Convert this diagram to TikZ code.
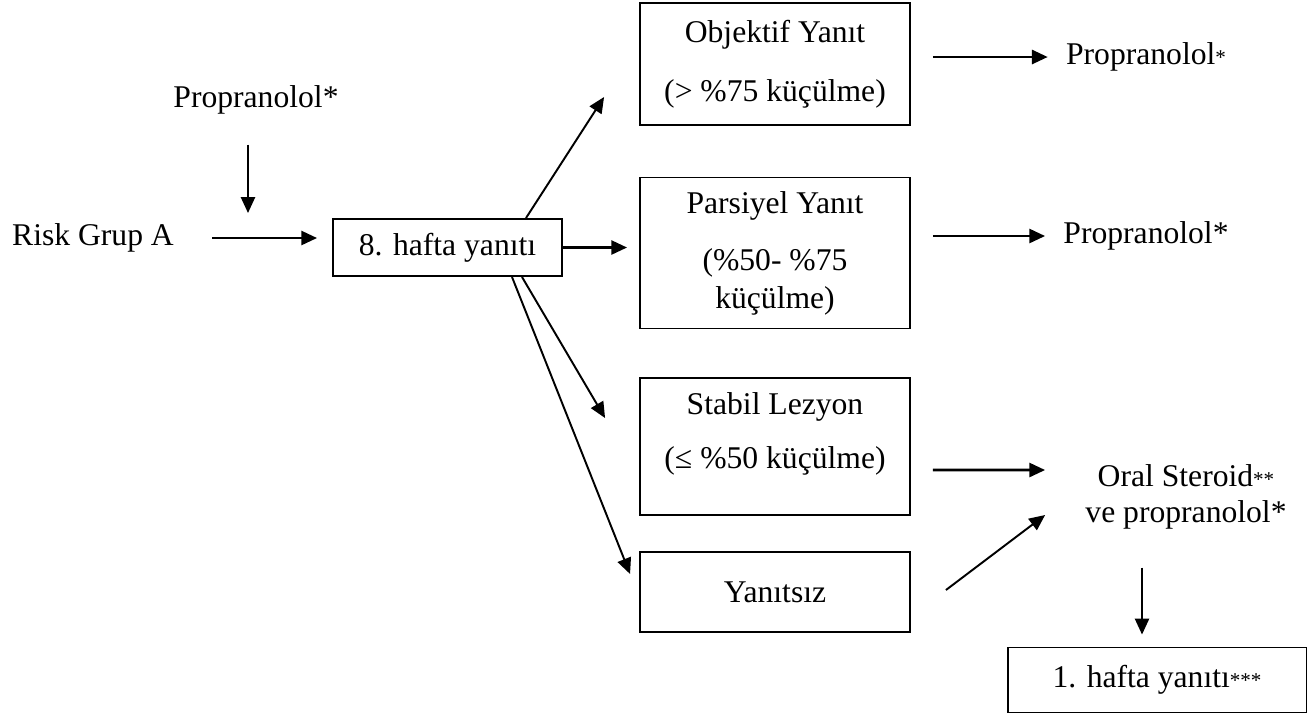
\documentclass[tikz,border=0pt]{standalone}
\usepackage{fontspec}
\setmainfont{Liberation Serif}
\usetikzlibrary{positioning, arrows.meta}

\newcommand{\smstar}[1]{{\fontsize{12}{12}\selectfont #1}}

\begin{document}
\begin{tikzpicture}[
  x=0.02cm, y=-0.02cm,
  font=\fontsize{18}{21.5}\selectfont,
  >={Triangle[length=9pt,width=8pt]},
  % --- node styles ---
  lbl/.style={inner sep=0pt, align=center},
  box/.style={
    draw, line width=1.1pt, align=center,
    inner sep=2pt, minimum width=5.4cm
  },
  arr/.style={->, line width=1.5pt},
  slim/.style={->, line width=1.1pt},
]
\useasboundingbox (0,0) rectangle (1314,718);

% ══════════════════════════════════════════════
% START
% ══════════════════════════════════════════════

\node[lbl] (prop0) at (256,100) {Propranolol*};
\node[lbl] (risk) at (93,238) {Risk Grup A};

\node[box, minimum width=4.58cm, minimum height=1.14cm] (h8) at (447.5,247.5)
  {8. hafta yanıtı};

\coordinate (inflow) at (248,213);

% ══════════════════════════════════════════════
% RESPONSE BOXES
% ══════════════════════════════════════════════

\node[box, minimum height=2.44cm] (obj) at (775,64)
  {Objektif Yanıt\\[12pt](> \%75 küçülme)};

\node[box, minimum height=3.02cm] (pars) at (775,253)
  {Parsiyel Yanıt\\[11pt](\%50- \%75\\küçülme)};

\node[box, minimum height=2.74cm] (stab) at (775,446.5)
  {Stabil Lezyon\\[9.5pt](≤ \%50 küçülme)\\[-3pt]\mbox{}};

\node[box, minimum height=1.6cm] (none) at (775,592) {Yanıtsız};

% ══════════════════════════════════════════════
% TREATMENT
% ══════════════════════════════════════════════

\node[lbl] (propA) at (1146,57) {Propranolol\smstar{*}};
\node[lbl] (propB) at (1146,236) {Propranolol*};

\node[lbl] (oral) at (1186,497)
  {Oral Steroid\smstar{**}\\[-1pt]ve propranolol*};

\node[box, minimum width=5.98cm, minimum height=1.3cm] (h1) at (1157,680)
  {1. hafta yanıtı\smstar{***}};

\coordinate (h1in) at ([xshift=-0.3cm]h1.north);

% ══════════════════════════════════════════════
% ARROWS
% ══════════════════════════════════════════════

\draw[slim, shorten <=0.6cm] (prop0.south -| inflow) -- (inflow);
\draw[arr, shorten <=0.76cm, shorten >=0.3cm] (risk.east) -- (risk.east -| h8.west);
\draw[arr, shorten >=0.24cm] (h8.east) -- (h8.east -| pars.west);

\draw[slim] ([xshift=1.57cm]h8.north) -- ([xshift=-0.7cm, yshift=-0.66cm]obj.west);
\draw[slim] ([xshift=1.49cm]h8.south) -- ([xshift=-0.68cm, yshift=0.57cm]stab.west);
\draw[slim] ([xshift=1.29cm]h8.south) -- ([xshift=-0.18cm, yshift=0.36cm]none.west);

\draw[arr, shorten <=0.44cm, shorten >=0.36cm] (obj.east |- propA.west) -- (propA.west);
\draw[arr, shorten <=0.44cm, shorten >=0.36cm] (pars.east |- propB.west) -- (propB.west);

\draw[arr] ([xshift=0.44cm, yshift=-0.47cm]stab.east) -- ([xshift=-0.8cm, yshift=0.54cm]oral.west);
\draw[slim] ([xshift=0.7cm, yshift=0.04cm]none.east) -- ([xshift=-0.8cm, yshift=-0.36cm]oral.west);

\draw[slim, shorten <=0.76cm, shorten >=0.24cm] (h1in |- oral.south) -- (h1in);

\end{tikzpicture}
\end{document}
